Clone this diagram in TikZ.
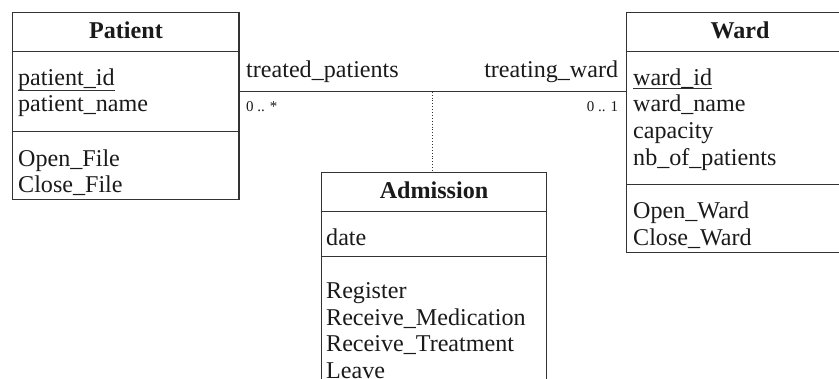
\documentclass[tikz,border=0pt]{standalone}
\usepackage{fontspec}
\setmainfont{Liberation Serif}
\definecolor{linec}{HTML}{333333}
\definecolor{textc}{HTML}{1A1A1A}
\begin{document}
\begin{tikzpicture}[x=1pt,y=-1pt,
  box/.style={draw=linec, line width=1.3pt, fill=white, inner sep=0pt, anchor=north west},
  sepline/.style={draw=linec, line width=1.3pt},
  txt/.style={inner sep=0pt, anchor=base west, text=textc, font=\fontsize{24.1}{26.7}\selectfont},
  txtr/.style={inner sep=0pt, anchor=base east, text=textc, font=\fontsize{24.1}{26.7}\selectfont},
  ttl/.style={inner sep=0pt, anchor=base, text=textc, font=\fontsize{24.1}{26.7}\selectfont\bfseries},
  mult/.style={inner sep=0pt, text=textc, font=\fontsize{15}{18}\selectfont},
  assoc/.style={draw=linec, line width=1.1pt},
  dotl/.style={draw=linec, line width=0.9pt, dotted},
  uline/.style={draw=linec, line width=0.8pt}]
\useasboundingbox (0,0) rectangle (839,378);
\clip (0,0) rectangle (839,378);
% boxes
\node[box, minimum width=226.6pt, minimum height=187.3pt] (patient) at (11.7,11.7) {};
\node[box, minimum width=228pt, minimum height=240pt] (ward) at (626,11.7) {};
\node[box, minimum width=225.5pt, minimum height=260pt] (admission) at (320.5,171.7) {};
% separators
\draw[sepline] (patient.west |- 0,51.7) -- (patient.east |- 0,51.7);
\draw[sepline] (patient.west |- 0,131.7) -- (patient.east |- 0,131.7);
\draw[sepline] (ward.west |- 0,51.7) -- (ward.east |- 0,51.7);
\draw[sepline] (ward.west |- 0,184.3) -- (ward.east |- 0,184.3);
\draw[sepline] (admission.west |- 0,211.7) -- (admission.east |- 0,211.7);
\draw[sepline] (admission.west |- 0,256.7) -- (admission.east |- 0,256.7);
% titles
\node[ttl] (tp) at (126,38.5) {Patient};
\node[ttl] (tw) at (740,38.5) {Ward};
\node[ttl] (ta) at (434,198.5) {Admission};
% Patient contents
\node[txt] (pid) at (18,85) {patient\_id};
\node[txt] (pname) at (18,111.7) {patient\_name};
\node[txt] (popen) at (18,166) {Open\_File};
\node[txt] (pclose) at (18,192.7) {Close\_File};
\draw[uline] (pid.south west) -- (pid.south east);
% Ward contents
\node[txt] (wid) at (633,85) {ward\_id};
\node[txt] (wname) at (633,111.7) {ward\_name};
\node[txt] (wcap) at (633,138.3) {capacity};
\node[txt] (wnb) at (633,165) {nb\_of\_patients};
\node[txt] (wopen) at (633,218.3) {Open\_Ward};
\node[txt] (wclose) at (633,245) {Close\_Ward};
\draw[uline] (wid.south west) -- (wid.south east);
% Admission contents
\node[txt] (adate) at (326,245) {date};
\node[txt] (areg) at (326,298.3) {Register};
\node[txt] (amed) at (326,325) {Receive\_Medication};
\node[txt] (atreat) at (326,351.7) {Receive\_Treatment};
\node[txt] (aleave) at (326,378.3) {Leave};
% association
\draw[assoc] (patient.east |- 0,91.7) -- (ward.west |- 0,91.7);
\coordinate (amid) at (432.3,91.7);
\draw[dotl] (amid) -- (amid |- admission.north);
% role names and multiplicities
\node[txt] (rtp) at (246,77) {treated\_patients};
\node[txtr] (rtw) at (618.3,77) {treating\_ward};
\node[mult, anchor=base west] (m1) at (246,111.7) {0 .. *};
\node[mult, anchor=base east] (m2) at (618.3,111.7) {0 .. 1};
\end{tikzpicture}
\end{document}
